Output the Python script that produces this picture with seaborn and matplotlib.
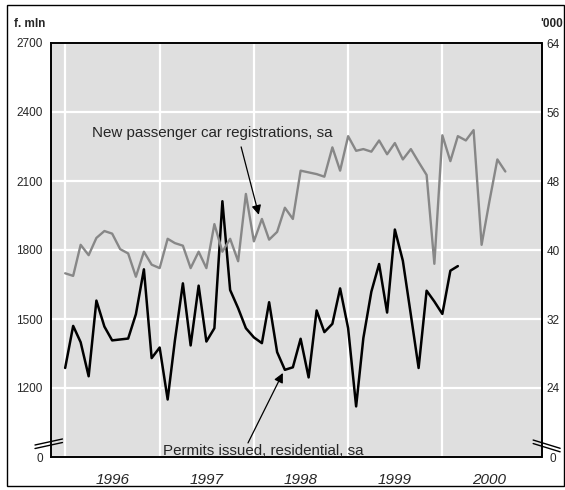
import matplotlib
matplotlib.use("Agg")
import numpy as np
import pandas as pd
import matplotlib.pyplot as plt
import matplotlib.patches as patches
import seaborn as sns

# =========================
# DATA (monthly, starting Jan 1996)
# =========================
# New passenger car registrations, sa ('000, right axis)
cars = [37.3, 37.0, 40.6, 39.4, 41.4, 42.2, 41.9, 40.1, 39.6, 36.9,
        39.8, 38.3, 37.9, 41.3, 40.8, 40.5, 37.9, 39.8, 37.9, 43.0,
        39.8, 41.3, 38.7, 46.5, 41.0, 43.6, 41.2, 42.1, 44.9, 43.6,
        49.2, 49.0, 48.8, 48.5, 51.9, 49.2, 53.2, 51.5, 51.7, 51.4,
        52.7, 51.1, 52.4, 50.5, 51.7, 50.2, 48.7, 38.4, 53.3, 50.3,
        53.2, 52.7, 53.9, 40.6, 45.6, 50.5, 49.1]

# Permits issued, residential, sa (f. mln, left axis)
permits = [1287, 1470, 1399, 1251, 1580, 1467, 1407, 1411, 1415, 1521,
           1716, 1330, 1376, 1150, 1406, 1655, 1385, 1645, 1402, 1460,
           2012, 1626, 1547, 1460, 1420, 1395, 1573, 1356, 1279, 1290,
           1414, 1246, 1537, 1443, 1479, 1633, 1460, 1120, 1417, 1619,
           1739, 1528, 1889, 1753, 1518, 1287, 1623, 1576, 1522, 1710,
           1730]

years = [1996, 1997, 1998, 1999, 2000]
left_ticks = [900, 1200, 1500, 1800, 2100, 2400, 2700]
left_labels = ["0", "1200", "1500", "1800", "2100", "2400", "2700"]
right_ticks = [16, 24, 32, 40, 48, 56, 64]
right_labels = ["0", "24", "32", "40", "48", "56", "64"]

car_dates = pd.date_range("1996-01-01", periods=len(cars), freq="MS")
permit_dates = pd.date_range("1996-01-01", periods=len(permits), freq="MS")

# =========================
# STYLE
# =========================
sns.set_theme(style="darkgrid", rc={"axes.facecolor": "#dfdfdf",
                                     "grid.color": "white"})
plt.rcParams["font.family"] = ["Liberation Sans", "DejaVu Sans"]

W, H = 565, 490
fig = plt.figure(figsize=(W / 100, H / 100), dpi=100)
fig.patch.set_facecolor("white")
ax = fig.add_axes([50.7 / W, 1 - 457 / H, 490.8 / W, 414 / H])
ax2 = ax.twinx()

# =========================
# LINES
# =========================
sns.lineplot(x=permit_dates, y=permits, ax=ax, color="black", lw=1.8)
sns.lineplot(x=car_dates, y=cars, ax=ax2, color="#878787", lw=1.7)

ax.set_ylim(900, 2700)
ax2.set_ylim(16, 64)
ax.set_xlim(pd.Timestamp("1995-11-06"), pd.Timestamp("2001-01-19"))

ax.set_yticks(left_ticks)
ax.set_yticklabels(left_labels)
ax2.set_yticks(right_ticks)
ax2.set_yticklabels(right_labels)
for t in ax2.get_yticklabels():
    t.set_horizontalalignment("center")

ax.set_xticks([pd.Timestamp(f"{y}-07-01") for y in years])
ax.set_xticklabels([str(y) for y in years], fontstyle="italic", fontsize=11)
ax.set_xticks([pd.Timestamp(f"{y}-01-01") for y in years], minor=True)

ax.grid(False)
ax2.grid(False)
ax.yaxis.grid(True, which="major", color="white", lw=1.6)
ax.xaxis.grid(True, which="minor", color="white", lw=1.6)
ax.set_axisbelow(True)

ax.tick_params(axis="y", which="both", length=0, pad=5.8, labelsize=8.5)
ax.tick_params(axis="x", which="both", length=0, pad=11.5)
ax2.tick_params(axis="y", which="both", length=0, pad=8.3, labelsize=8.5)
for a in (ax, ax2):
    a.set_xlabel("")
    a.set_ylabel("")
    for s in a.spines.values():
        s.set_visible(True)
        s.set_color("black")
        s.set_linewidth(1.2)

# axis break marks
for dy in (0.0, -0.0085):
    ax.plot([-0.032, 0.024], [0.029 + dy, 0.0435 + dy], transform=ax.transAxes,
            color="black", lw=1.0, clip_on=False)
    ax.plot([0.983, 1.038], [0.041 + dy, 0.021 + dy], transform=ax.transAxes,
            color="black", lw=1.0, clip_on=False)

# =========================
# ANNOTATIONS
# =========================
ax2.text(0.084, 0.772, "New passenger car registrations, sa", transform=ax2.transAxes,
         fontsize=10.9, va="baseline", ha="left")
ax2.annotate("", xy=(0.424, 0.585), xytext=(0.388, 0.749), xycoords="axes fraction",
             arrowprops=dict(arrowstyle="-|>", color="black", lw=0.9,
                             mutation_scale=14, shrinkA=0, shrinkB=0))
ax2.text(0.229, 0.006, "Permits issued, residential, sa", transform=ax2.transAxes,
         fontsize=10.9, va="baseline", ha="left")
ax2.annotate("", xy=(0.473, 0.203), xytext=(0.402, 0.034), xycoords="axes fraction",
             arrowprops=dict(arrowstyle="-|>", color="black", lw=0.9,
                             mutation_scale=14, shrinkA=0, shrinkB=0))

# unit labels and outer frame
fig.text(14 / W, 1 - 24 / H, "f. mln", fontsize=8.5, fontweight="bold", va="center", ha="left")
fig.text(563 / W, 1 - 24 / H, "'000", fontsize=8.5, fontweight="bold", va="center", ha="right")
fig.patches.append(patches.Rectangle((7 / W, 1 - 486 / H), (564 - 7) / W, (486 - 5) / H,
                                     transform=fig.transFigure, fill=False,
                                     edgecolor="black", lw=1.0))

fig.savefig("out.png", dpi=100)
